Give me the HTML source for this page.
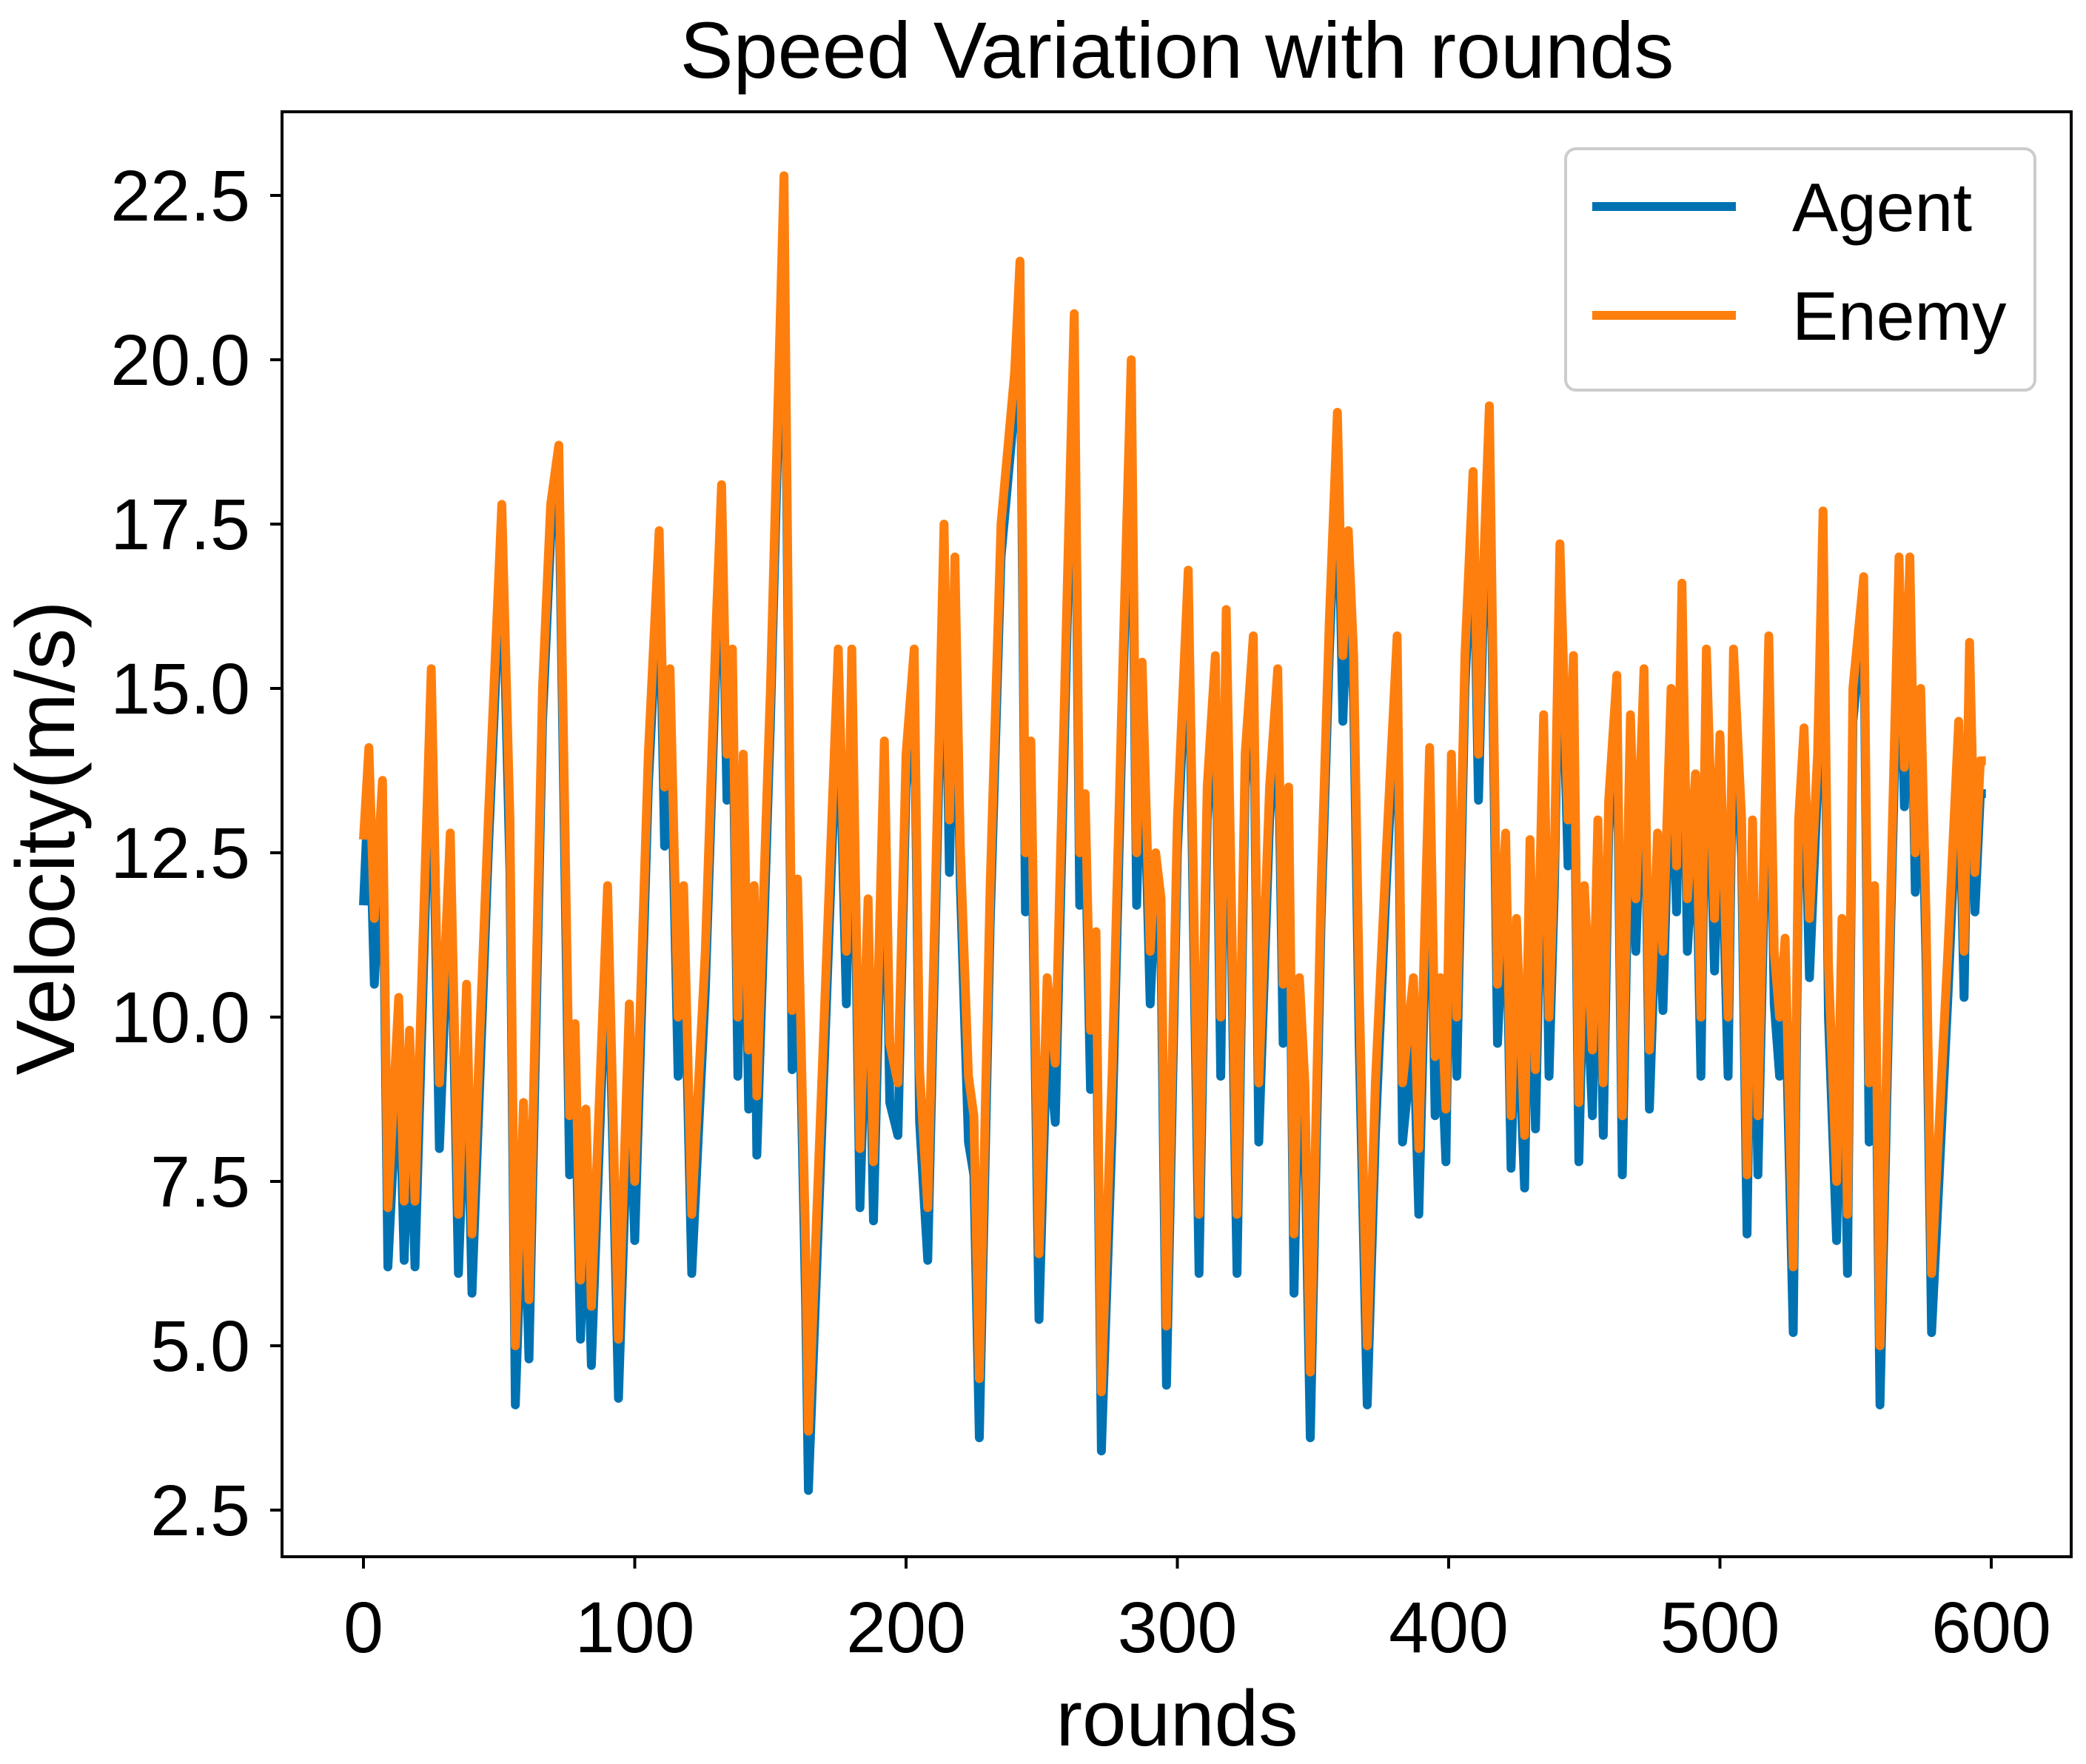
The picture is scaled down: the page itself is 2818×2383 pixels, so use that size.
<!DOCTYPE html>
<html><head><meta charset="utf-8"><style>
body{margin:0;background:#fff;}
svg{display:block;font-family:"Liberation Sans","DejaVu Sans",sans-serif;}
</style></head><body>
<svg id="chart" width="2818" height="2383" viewBox="0 0 2818 2383" xmlns="http://www.w3.org/2000/svg">
<rect width="2818" height="2383" fill="#fff"/>
<text x="1590" y="105" font-size="108" text-anchor="middle" fill="#000">Speed Variation with rounds</text>
<g id="series"></g>
<rect x="381" y="151" width="2417" height="1952" fill="none" stroke="#000" stroke-width="4"/>
<g id="ticks"></g>
<text x="1590" y="2358" font-size="107" text-anchor="middle" fill="#000">rounds</text>
<text transform="translate(100,1132) rotate(-90)" font-size="112" text-anchor="middle" fill="#000">Velocity(m/s)</text>
<g>
<rect x="2115" y="201" width="634" height="326" rx="14" fill="#fff" fill-opacity="0.8" stroke="#ccc" stroke-width="4"/>
<line x1="2151" y1="279" x2="2345" y2="279" stroke="#0072B2" stroke-width="12"/>
<text x="2421" y="312" font-size="93" fill="#000">Agent</text>
<line x1="2151" y1="426" x2="2345" y2="426" stroke="#FF7F0E" stroke-width="12"/>
<text x="2421" y="459" font-size="93" fill="#000">Enemy</text>
</g>
</svg>
<script>
const rounds=[0,2,4,7,9,13,15,17,19,25,28,32,35,38,40,46,51,54,56,59,61,66,69,72,76,78,80,82,84,90,94,98,100,105,109,111,113,116,118,121,126,130,132,134,136,138,140,142,144,145,150,155,158,160,163,164,168,175,178,180,183,186,188,192,194,197,200,203,205,208,212,214,216,218,220,223,225,227,231,235,240,242,244,246,249,252,255,260,262,264,266,268,270,272,276,280,283,285,287,290,292,294,296,300,304,308,311,314,316,318,322,325,328,330,334,337,339,341,343,345,347,349,353,356,359,361,363,365,367,370,373,377,381,383,387,389,393,395,397,399,401,403,406,409,411,413,415,418,421,423,425,428,430,432,435,437,439,441,444,446,448,450,453,455,457,459,462,464,467,469,472,474,477,479,482,484,486,488,491,493,495,498,500,503,505,508,510,512,514,516,518,520,522,524,527,529,531,533,536,538,540,543,545,547,549,553,555,557,559,563,566,568,570,572,574,576,578,584,588,590,592,594,596,598,600];
const enemy=[12.7,14.1,11.5,13.6,7.1,10.3,7.2,9.8,7.2,15.3,9.0,12.8,7.0,10.5,6.7,13,17.8,13,5.0,8.7,5.7,15,17.8,18.7,8.5,9.9,6.0,8.6,5.6,12.0,5.1,10.2,7.5,14,17.4,13.5,15.3,10,12,7.0,11,16,18.1,14,15.6,10,14,9.5,12,8.8,15,22.8,10.1,12.1,6.5,3.7,8,15.6,11,15.6,8,11.8,7.8,14.2,9.6,9,14,15.6,9.2,7.1,14,17.5,13,17,12.6,9.1,8.5,4.5,12,17.5,19.8,21.5,12.5,14.2,6.4,10.6,9.3,17.5,20.7,12.5,13.4,9.8,11.3,4.3,9.2,15.5,20.0,12.5,15.4,11.0,12.5,11.8,5.3,13,16.8,7,13.5,15.5,10,16.2,7,14,15.8,9,13.5,15.3,10.5,13.5,6.7,10.6,9,4.6,12,16,19.2,15.5,17.4,15.5,10.5,5.0,9,12.5,15.8,9.0,10.6,8.0,14.1,9.4,10.6,8.6,14.0,10,15.5,18.3,14,17,19.3,10.5,12.8,8.5,11.5,8.2,12.7,9.2,14.6,10,12.5,17.2,13,15.5,8.7,12,9.5,13,9,13.3,15.2,8.5,14.6,11.8,15.3,9.5,12.8,11,15,12.3,16.6,11.8,13.7,10,15.6,11.5,14.3,10,15.6,13,7.6,13,8.5,12,15.8,11,10,11.2,6.2,13,14.4,11.5,14,17.7,10.8,7.5,11.5,7.0,15,16.7,9,12,5.0,12,17,13.8,17,12.5,15,11.5,6.1,11,14.5,11,15.7,12.2,13.9,13.9];
const agent=[11.7,13.6,10.5,13.1,6.2,9.5,6.3,9.0,6.2,14.8,8.0,12.3,6.1,9.6,5.8,12.5,17.3,12.2,4.1,7.8,4.8,14.5,17.3,18.2,7.6,9.0,5.1,7.7,4.7,11.5,4.2,9.3,6.6,13.5,16.9,12.6,14.8,9.1,11.5,6.1,10.4,15.5,17.6,13.3,15.1,9.1,13.5,8.6,11.5,7.9,14.5,22.3,9.2,11.6,5.6,2.8,7.2,15.1,10.2,15.1,7.1,11.2,6.9,13.7,8.7,8.2,13.5,15.1,8.4,6.3,13.5,17,12.2,16.5,12,8.1,7.6,3.6,11.4,17,19.3,21,11.6,13.7,5.4,9.8,8.4,17,20.2,11.7,12.9,8.9,10.6,3.4,8.3,15,19.5,11.7,14.9,10.2,12,10.9,4.4,12.5,16.3,6.1,13,15,9.1,15.7,6.1,13.5,15.3,8.1,13,14.8,9.6,13,5.8,9.8,8.1,3.6,11.5,15.5,18.7,14.5,16.9,14.8,9.6,4.1,8.2,12,15.3,8.1,9.8,7.0,13.6,8.5,9.8,7.8,13.5,9.1,15,17.8,13.3,16.5,18.8,9.6,12.3,7.7,10.6,7.4,12.2,8.3,14.1,9.1,12,16.7,12.3,15,7.8,11.4,8.5,12.5,8.2,12.8,14.7,7.6,14.1,11.0,14.8,8.6,12.3,10.1,14.5,11.6,16.1,11,13.2,9.1,15.1,10.7,13.8,9.1,15.1,12.4,6.7,12.5,7.6,11.3,15.3,10.2,9.1,10.5,5.2,12.5,13.9,10.6,13.5,17.2,10.0,6.6,10.7,6.1,14.5,16.2,8.1,11.3,4.1,11.5,16.5,13.2,16.5,11.9,14.5,10.8,5.2,10.3,14,10.3,15.2,11.6,13.4,13.4];
const xTicks=[0,100,200,300,400,500,600];
const yTicks=[2.5,5.0,7.5,10.0,12.5,15.0,17.5,20.0,22.5];
const xs=v=>491+(v/600)*(2690-491);
const ys=v=>2040-(v-2.5)/20*(2040-264);
const NS="http://www.w3.org/2000/svg";
const series=document.getElementById('series');
function line(vals,color,name){
  const p=document.createElementNS(NS,'path');
  p.setAttribute('d',vals.map((v,i)=>(i?'L':'M')+xs(rounds[i]).toFixed(1)+','+ys(v).toFixed(1)).join(''));
  p.setAttribute('fill','none');p.setAttribute('stroke',color);p.setAttribute('stroke-width','12');p.setAttribute('stroke-linejoin','round');
  
  
  series.appendChild(p);
}
line(agent,'#0072B2','agent-line');
line(enemy,'#FF7F0E','enemy-line');
const tg=document.getElementById('ticks');
xTicks.forEach(t=>{
  const l=document.createElementNS(NS,'line');
  l.setAttribute('x1',xs(t));l.setAttribute('x2',xs(t));l.setAttribute('y1',2103);l.setAttribute('y2',2119);l.setAttribute('stroke','#000');l.setAttribute('stroke-width','4');
  
  
  tg.appendChild(l);
  const tx=document.createElementNS(NS,'text');
  tx.setAttribute('x',xs(t));tx.setAttribute('y',2232);tx.setAttribute('font-size','97');tx.setAttribute('text-anchor','middle');
  tx.textContent=t;
  
  
  tg.appendChild(tx);
});
yTicks.forEach(t=>{
  const l=document.createElementNS(NS,'line');
  l.setAttribute('x1',365);l.setAttribute('x2',381);l.setAttribute('y1',ys(t));l.setAttribute('y2',ys(t));l.setAttribute('stroke','#000');l.setAttribute('stroke-width','4');
  
  
  tg.appendChild(l);
  const tx=document.createElementNS(NS,'text');
  tx.setAttribute('x',338);tx.setAttribute('y',ys(t)+34);tx.setAttribute('font-size','97');tx.setAttribute('text-anchor','end');
  tx.textContent=t.toFixed(1);
  
  
  tg.appendChild(tx);
});
</script>
</body></html>
